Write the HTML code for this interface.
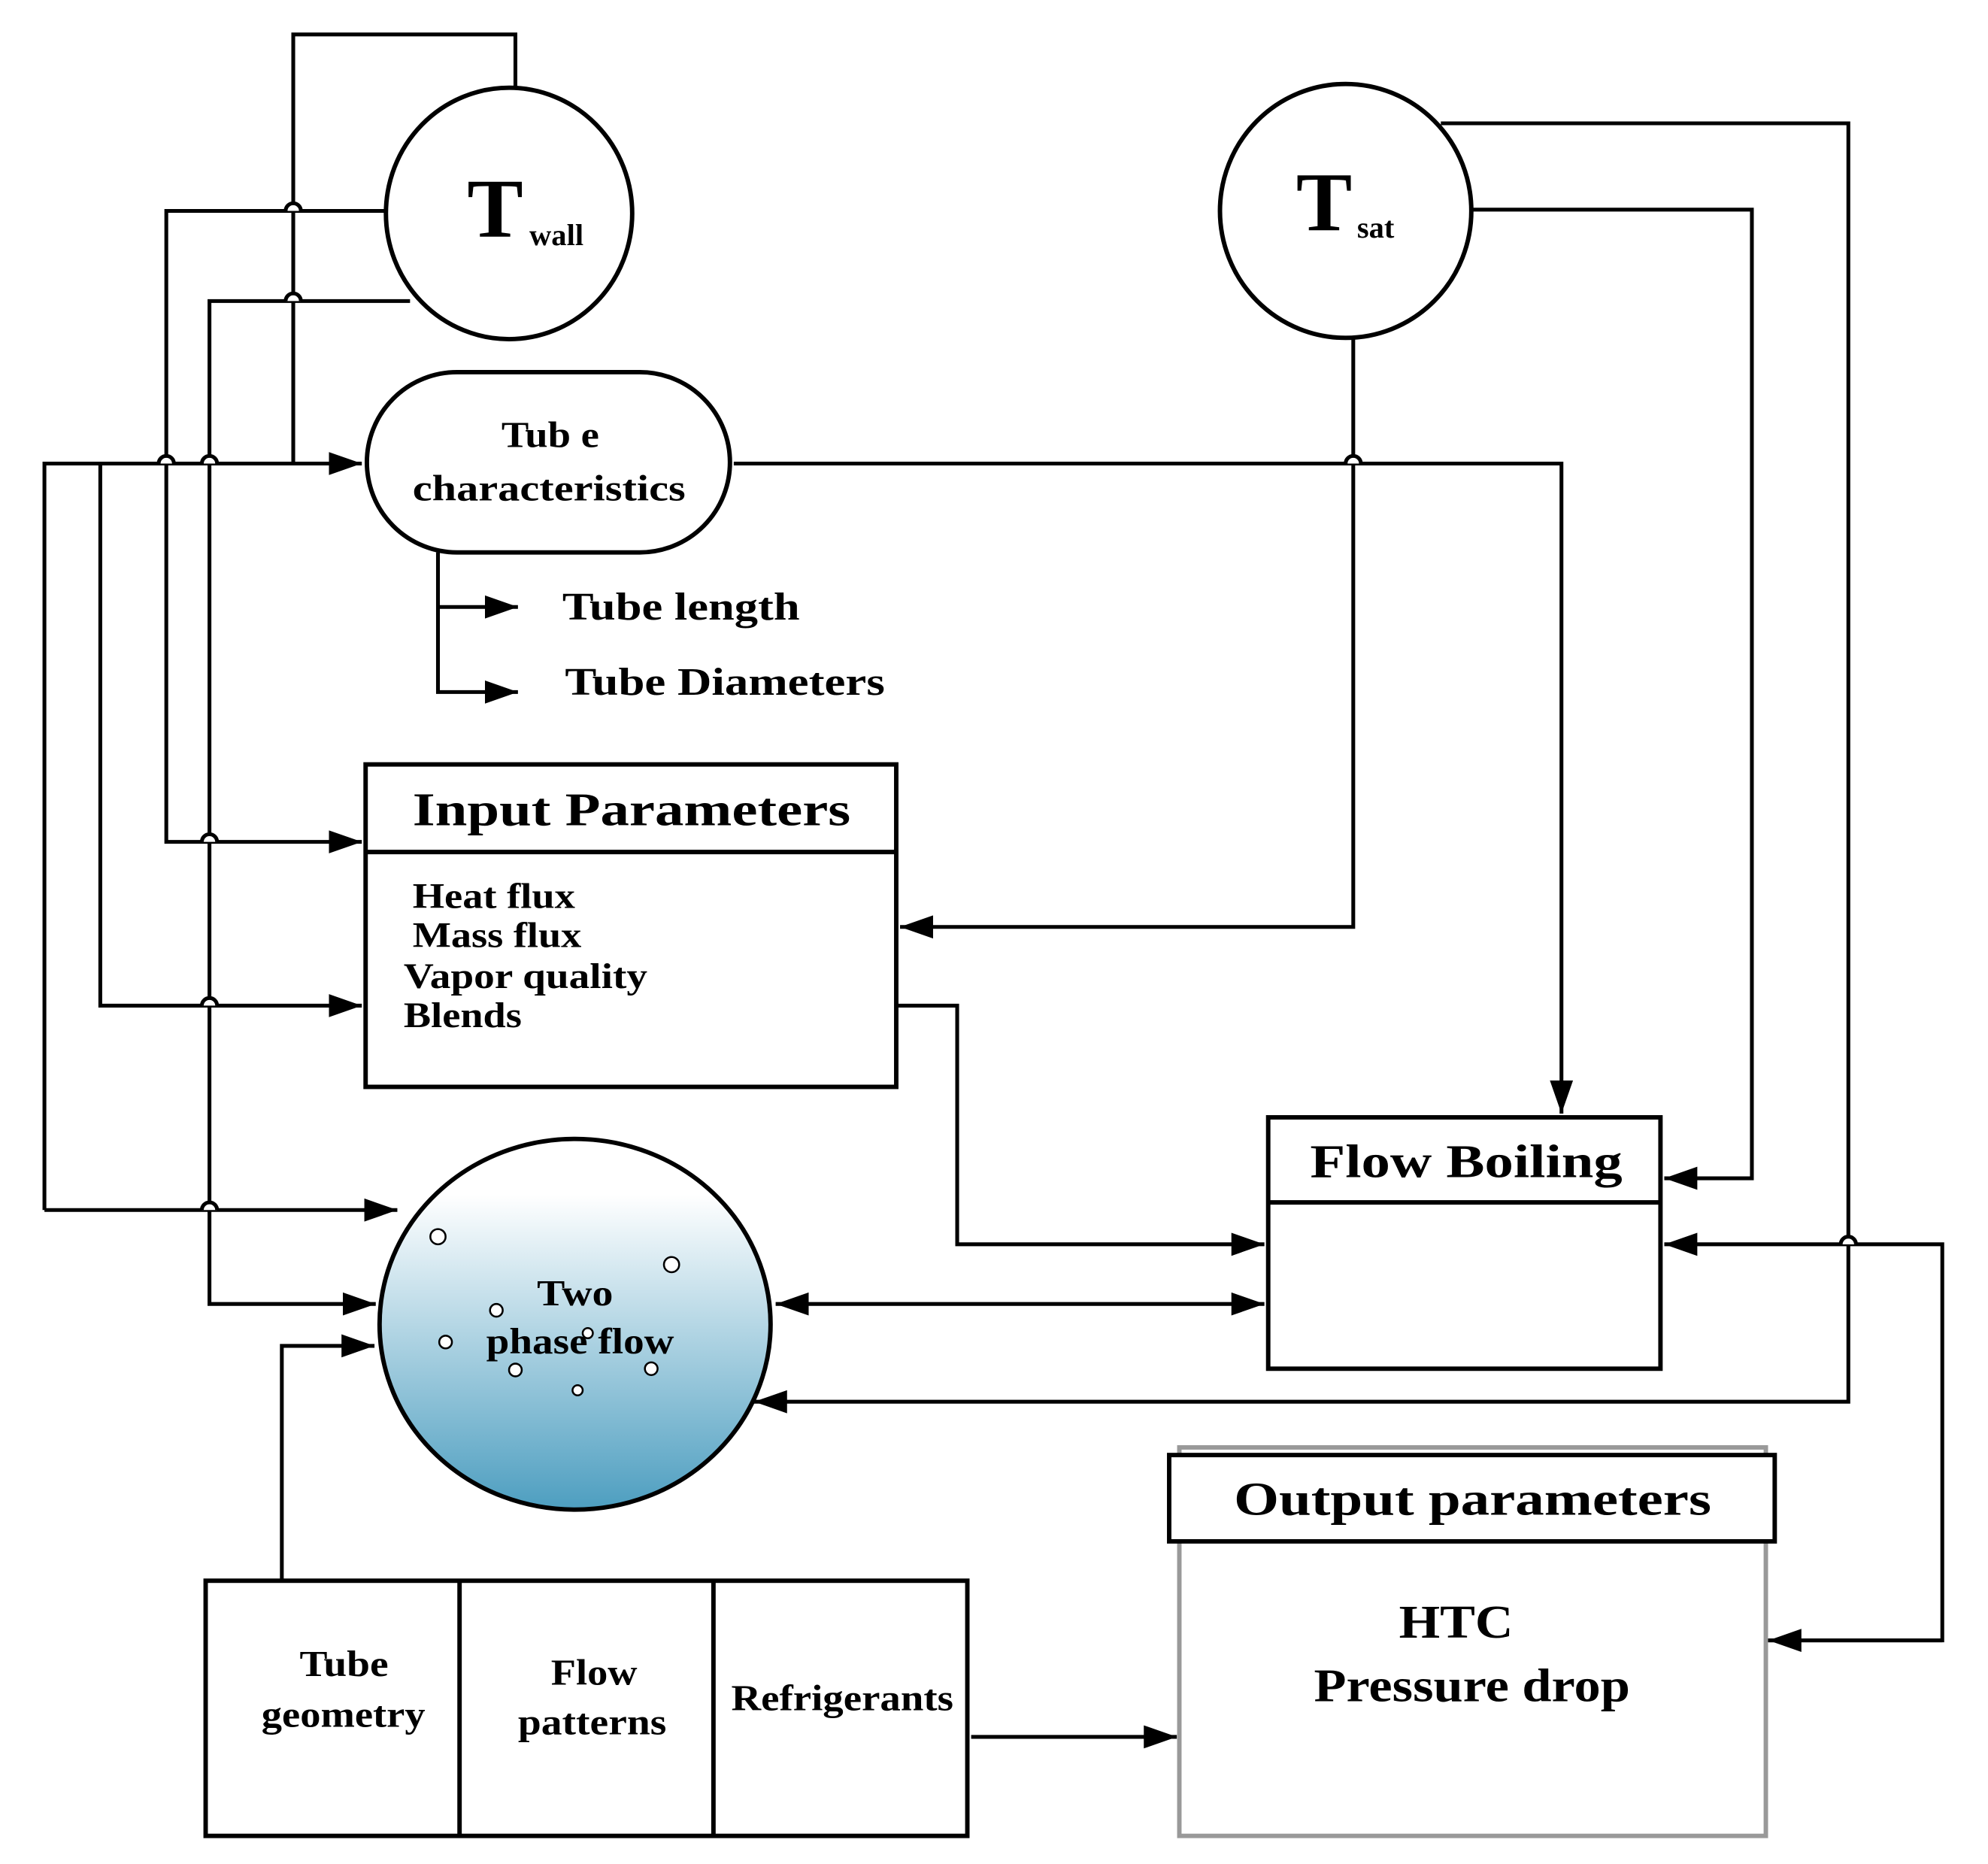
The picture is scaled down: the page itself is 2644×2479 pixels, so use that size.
<!DOCTYPE html>
<html><head><meta charset="utf-8"><style>
html,body{margin:0;padding:0;background:#fff;}
svg{display:block;}
text{font-family:"Liberation Serif",serif;font-weight:bold;fill:#000;}
</style></head><body>
<svg width="2644" height="2479" viewBox="0 0 1566 1468" xmlns="http://www.w3.org/2000/svg">
<defs>
<marker id="A" viewBox="0 0 10 10" refX="10" refY="5" markerWidth="26" markerHeight="26" markerUnits="userSpaceOnUse" orient="auto-start-reverse"><path d="M0,1.5 L10,5 L0,8.5 z" fill="#000"/></marker>
<linearGradient id="g" x1="0" y1="0" x2="0" y2="1"><stop offset="0.15" stop-color="#ffffff"/><stop offset="1" stop-color="#4d9ec0"/></linearGradient>
</defs>
<g fill="none" stroke="#000" stroke-width="3">
<polyline points="406,69 406,27 231,27 231,365"/>
<polyline points="305,166 131,166 131,663 285,663" marker-end="url(#A)"/>
<polyline points="323,237 165,237 165,1027 296,1027" marker-end="url(#A)"/>
<polyline points="35,953 35,365 285,365" marker-end="url(#A)"/>
<line x1="35" y1="953" x2="313" y2="953" marker-end="url(#A)"/>
<polyline points="79,365 79,792 285,792" marker-end="url(#A)"/>
<polyline points="578,365 1230,365 1230,877" marker-end="url(#A)"/>
<polyline points="345,435 345,545 408,545" marker-end="url(#A)"/>
<line x1="345" y1="478" x2="408" y2="478" marker-end="url(#A)"/>
<polyline points="1066,267 1066,730 709,730" marker-end="url(#A)"/>
<polyline points="1135,97 1456,97 1456,1104 594,1104" marker-end="url(#A)"/>
<polyline points="1160,165 1380,165 1380,928 1311,928" marker-end="url(#A)"/>
<polyline points="706,792 754,792 754,980 996,980" marker-end="url(#A)"/>
<line x1="611" y1="1027" x2="996" y2="1027" marker-start="url(#A)" marker-end="url(#A)"/>
<polyline points="1390,1292 1530,1292 1530,980 1311,980" marker-end="url(#A)"/>
<line x1="1530" y1="1292" x2="1393" y2="1292" marker-end="url(#A)"/>
<polyline points="222,1245 222,1060 295,1060" marker-end="url(#A)"/>
<line x1="765" y1="1368" x2="927" y2="1368" marker-end="url(#A)"/>
</g>
<g fill="#fff" stroke="#000" stroke-width="3">
<path d="M225,166 a6,6 0 0 1 12,0" /><path d="M225,237 a6,6 0 0 1 12,0"/>
<path d="M125,365 a6,6 0 0 1 12,0"/><path d="M159,365 a6,6 0 0 1 12,0"/>
<path d="M159,663 a6,6 0 0 1 12,0"/><path d="M159,792 a6,6 0 0 1 12,0"/>
<path d="M159,953 a6,6 0 0 1 12,0"/>
<path d="M1060,365 a6,6 0 0 1 12,0"/><path d="M1450,980 a6,6 0 0 1 12,0"/>
</g>
<g stroke="#000" stroke-width="3.5" fill="#fff">
<ellipse cx="401" cy="168" rx="97" ry="99"/>
<ellipse cx="1060" cy="166" rx="99" ry="100"/>
<rect x="289" y="293" width="286" height="142" rx="71" ry="71"/>
<rect x="288" y="602" width="418" height="254"/>
<line x1="288" y1="671" x2="706" y2="671"/>
<rect x="999" y="880" width="309" height="198"/>
<line x1="999" y1="947" x2="1308" y2="947"/>
<ellipse cx="453" cy="1043" rx="154" ry="146" fill="url(#g)"/>
<rect x="162" y="1245" width="600" height="201"/>
<line x1="362" y1="1245" x2="362" y2="1446"/><line x1="562" y1="1245" x2="562" y2="1446"/>
<rect x="929" y="1140" width="462" height="306" stroke="#999"/>
<rect x="921" y="1146" width="477" height="68"/>
</g>
<g fill="#fff" stroke="#000" stroke-width="1.5">
<circle cx="345" cy="974" r="6"/><circle cx="529" cy="996" r="6"/><circle cx="391" cy="1032" r="5"/>
<circle cx="351" cy="1057" r="5"/><circle cx="406" cy="1079" r="5"/><circle cx="513" cy="1078" r="5"/>
<circle cx="455" cy="1095" r="4"/><circle cx="463" cy="1050" r="4"/>
</g>
<text x="368" y="186" font-size="66">T</text><text x="417" y="193" font-size="24">wall</text>
<text x="1021" y="181" font-size="66">T</text><text x="1069" y="187" font-size="24">sat</text>
<g font-size="29" lengthAdjust="spacingAndGlyphs">
<text x="395" y="352" textLength="77" lengthAdjust="spacingAndGlyphs">Tub e</text>
<text x="325" y="394" textLength="215" lengthAdjust="spacingAndGlyphs">characteristics</text>
<text x="236" y="1320" textLength="70" lengthAdjust="spacingAndGlyphs">Tube</text>
<text x="206" y="1360" textLength="129" lengthAdjust="spacingAndGlyphs">geometry</text>
<text x="434" y="1327" textLength="68" lengthAdjust="spacingAndGlyphs">Flow</text>
<text x="408" y="1366" textLength="117" lengthAdjust="spacingAndGlyphs">patterns</text>
<text x="576" y="1347" textLength="175" lengthAdjust="spacingAndGlyphs">Refrigerants</text>
<text x="423" y="1028" textLength="60" lengthAdjust="spacingAndGlyphs">Two</text>
<text x="383" y="1066" textLength="148" lengthAdjust="spacingAndGlyphs">phase flow</text>
</g>
<g font-size="31">
<text x="443" y="488" textLength="187" lengthAdjust="spacingAndGlyphs">Tube length</text>
<text x="445" y="547" textLength="252" lengthAdjust="spacingAndGlyphs">Tube Diameters</text>
</g>
<g font-size="28">
<text x="325" y="715" textLength="128" lengthAdjust="spacingAndGlyphs">Heat flux</text>
<text x="325" y="746" textLength="133" lengthAdjust="spacingAndGlyphs">Mass flux</text>
<text x="318" y="778" textLength="192" lengthAdjust="spacingAndGlyphs">Vapor quality</text>
<text x="318" y="809" textLength="93" lengthAdjust="spacingAndGlyphs">Blends</text>
</g>
<g font-size="37">
<text x="325" y="650" textLength="345" lengthAdjust="spacingAndGlyphs">Input Parameters</text>
<text x="1032" y="927" textLength="246" lengthAdjust="spacingAndGlyphs">Flow Boiling</text>
<text x="972" y="1193" textLength="376" lengthAdjust="spacingAndGlyphs">Output parameters</text>
<text x="1102" y="1290" textLength="90" lengthAdjust="spacingAndGlyphs">HTC</text>
<text x="1035" y="1340" textLength="249" lengthAdjust="spacingAndGlyphs">Pressure drop</text>
</g>
</svg>
</body></html>
